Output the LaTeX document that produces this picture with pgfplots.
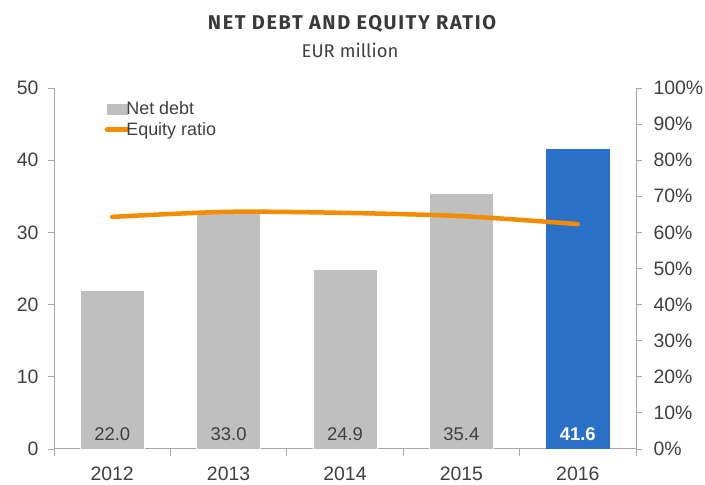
\documentclass[border=0pt]{standalone}
\usepackage{pgfplots}
\pgfplotsset{compat=1.18}
\usepackage{fontspec}
\setmainfont{Liberation Sans}
\newfontfamily\titlefont{Fira Sans}
\newfontfamily\titlefontsp[LetterSpace=8]{Fira Sans}
\definecolor{bargray}{HTML}{BFBFBF}
\definecolor{barblue}{HTML}{2970C6}
\definecolor{lineorange}{HTML}{F28C00}
\definecolor{axgray}{HTML}{A6A6A6}
\definecolor{txt}{HTML}{404040}
\begin{document}
\begin{tikzpicture}[x=1bp,y=1bp]
\useasboundingbox (0,0) rectangle (705,485);
\node[font=\titlefontsp\bfseries\fontsize{20}{22}\selectfont, text=txt!90!black] at (352,461.5) {NET DEBT AND EQUITY RATIO};
\node[font=\titlefont\fontsize{18.5}{20}\selectfont, text=txt] at (350,434.5) {EUR million};
\begin{axis}[
  at={(54bp,36bp)}, anchor=south west,
  scale only axis, width=582bp, height=361bp,
  xmin=-0.5, xmax=4.5, ymin=0, ymax=50,
  axis x line*=bottom, axis y line*=left,
  axis line style={axgray, line width=1bp, -},
  tick align=outside,
  major tick length=6bp, minor tick length=7bp,
  every tick/.style={axgray, line width=0.8bp},
  xtick={0,1,2,3,4}, xticklabels={2012,2013,2014,2015,2016},
  major x tick style={draw=none},
  minor xtick={-0.5,0.5,1.5,2.5,3.5,4.5},
  ytick={0,10,20,30,40,50},
  /pgf/number format/assume math mode=true,
  ticklabel style={font=\fontsize{19.5}{22}\selectfont, text=txt},
  xticklabel style={yshift=-8bp},
  yticklabel style={xshift=-6bp},
  /pgf/bar shift=0pt, bar width=0.55,
  legend style={at={(0.087,0.965)}, anchor=north west, draw=none, fill=none,
    font=\fontsize{18}{20}\selectfont, text=txt, row sep=4bp, column sep=-4bp,
    inner sep=0pt, nodes={inner xsep=1bp, inner ysep=1bp}},
  legend cell align=left,
]
\addplot[ybar, fill=bargray, draw=white, line width=0.5bp,
  legend image code/.code={\fill[bargray] (0bp,-5bp) rectangle (20bp,5bp);}]
  coordinates {(0,22.0) (1,33.0) (2,24.9) (3,35.4)};
\addlegendentry{Net debt}
\addplot[ybar, fill=barblue, draw=none, forget plot]
  coordinates {(4,41.6)};
\addlegendimage{legend image code/.code={\draw[lineorange, line width=4.5bp, line cap=round] (0bp,0bp) -- (20bp,0bp);}}
\addlegendentry{Equity ratio}
\addplot[draw=none, mark=none, forget plot, nodes near coords,
  point meta=explicit symbolic,
  every node near coord/.style={anchor=center, yshift=15bp, text=txt,
    font=\fontsize{18.5}{20}\selectfont}]
  coordinates {(0,0) [22.0] (1,0) [33.0] (2,0) [24.9] (3,0) [35.4]};
\addplot[draw=none, mark=none, forget plot, nodes near coords,
  point meta=explicit symbolic,
  every node near coord/.style={anchor=center, yshift=15bp, text=white,
    font=\bfseries\fontsize{18.5}{20}\selectfont}]
  coordinates {(4,0) [41.6]};
\end{axis}
\begin{axis}[
  at={(54bp,36bp)}, anchor=south west,
  scale only axis, width=582bp, height=361bp,
  xmin=-0.5, xmax=4.5, ymin=0, ymax=100,
  axis x line=none, axis y line*=right,
  axis line style={axgray, line width=1bp, -},
  tick align=outside, major tick length=6bp,
  every tick/.style={axgray, line width=0.8bp},
  xtick=\empty,
  ytick={0,10,...,100},
  yticklabel={\pgfmathprintnumber{\tick}\%},
  /pgf/number format/assume math mode=true,
  ticklabel style={font=\fontsize{19.5}{22}\selectfont, text=txt},
  yticklabel style={xshift=8bp},
]
\addplot[lineorange, line width=4.5bp, smooth, line cap=round, mark=none]
  coordinates {(0,64.3) (1,65.7) (2,65.4) (3,64.5) (4,62.3)};
\end{axis}
\end{tikzpicture}
\end{document}
